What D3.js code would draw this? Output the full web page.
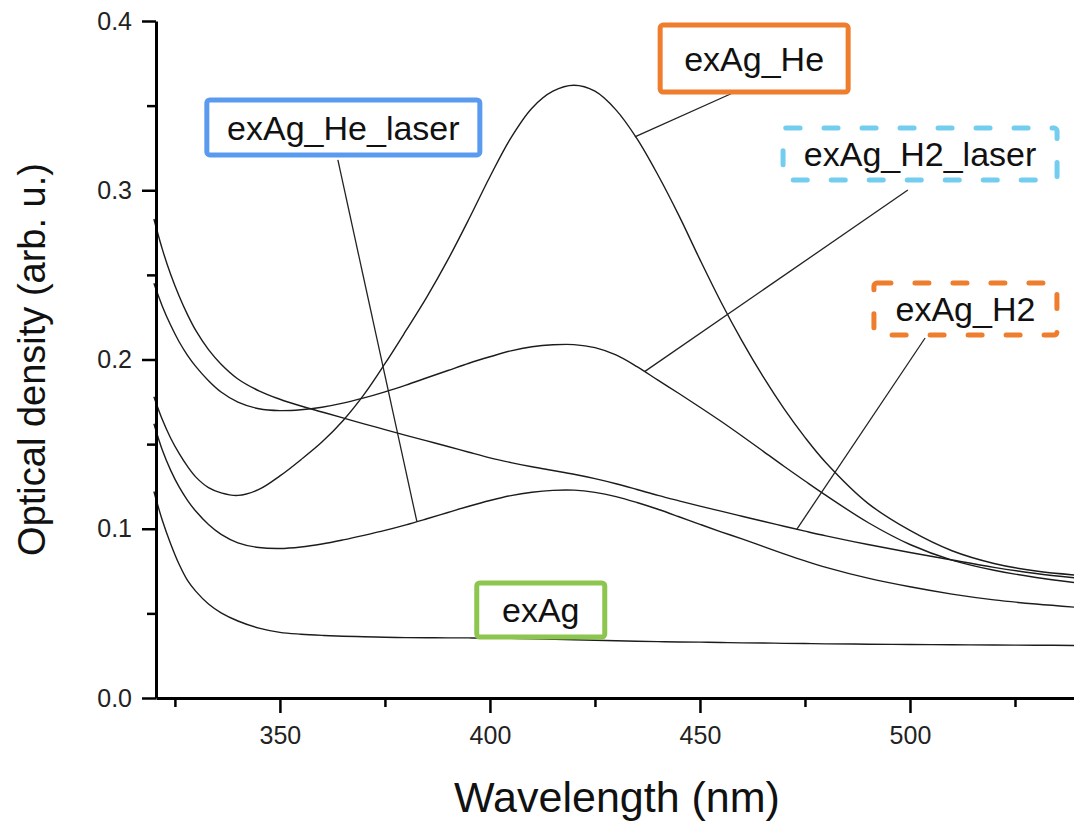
<!DOCTYPE html>
<html>
<head>
<meta charset="utf-8">
<script src="https://cdn.jsdelivr.net/npm/d3@7"></script>
<style>
  html, body { margin: 0; padding: 0; background: #fff; }
  svg { display: block; font-family: "Liberation Sans", Arial, sans-serif; }
</style>
</head>
<body>
<div id="chart"></div>
<script>
// Espectros de densidad óptica
const wavelength = [320, 322, 324, 326, 328, 330, 333, 336, 340, 345, 350, 355, 360, 365, 370, 375,
  380, 385, 390, 395, 400, 405, 410, 415, 420, 425, 430, 435, 440, 445, 450, 455, 460, 465, 470,
  475, 480, 490, 500, 510, 520, 530, 540];

const exAg = [0.122, 0.105, 0.091, 0.079, 0.0695, 0.063, 0.0555, 0.0503, 0.0455, 0.0413, 0.0388,
  0.0377, 0.037, 0.0365, 0.0362, 0.0359, 0.0357, 0.0356, 0.0355, 0.0355, 0.0354, 0.0352, 0.035,
  0.0347, 0.0344, 0.0341, 0.0338, 0.0335, 0.0333, 0.0331, 0.033, 0.0328, 0.0326, 0.0325, 0.0323,
  0.0322, 0.032, 0.0318, 0.0316, 0.0315, 0.0313, 0.0312, 0.031];

const exAgHe = [0.178, 0.1645, 0.1535, 0.1445, 0.1368, 0.1305, 0.1243, 0.1212, 0.1197, 0.1232,
  0.1312, 0.1408, 0.1512, 0.1638, 0.1792, 0.1975, 0.217, 0.237, 0.259, 0.283, 0.308, 0.331,
  0.3485, 0.3585, 0.362, 0.3585, 0.3475, 0.3305, 0.309, 0.285, 0.259, 0.234, 0.211, 0.190, 0.171,
  0.154, 0.139, 0.115, 0.099, 0.087, 0.0795, 0.075, 0.0725];

const exAgHeLaser = [0.162, 0.1465, 0.1345, 0.1247, 0.1168, 0.1103, 0.1025, 0.0967, 0.0917,
  0.0889, 0.0883, 0.0892, 0.091, 0.0934, 0.0961, 0.099, 0.1023, 0.1059, 0.1096, 0.1133, 0.1167,
  0.1196, 0.1216, 0.1227, 0.1228, 0.1215, 0.119, 0.1155, 0.1115, 0.1071, 0.1026, 0.0982, 0.094,
  0.0896, 0.0852, 0.081, 0.0772, 0.0708, 0.0657, 0.0614, 0.058, 0.0555, 0.0535];

const exAgH2 = [0.283, 0.2652, 0.2502, 0.2375, 0.2265, 0.217, 0.2058, 0.1972, 0.1885, 0.1815,
  0.1765, 0.1725, 0.169, 0.1655, 0.162, 0.1586, 0.1552, 0.1519, 0.1486, 0.1452, 0.1419, 0.1391,
  0.1366, 0.1344, 0.1322, 0.1296, 0.1266, 0.1232, 0.1197, 0.1165, 0.1134, 0.1104, 0.1074, 0.1044,
  0.1015, 0.0986, 0.0958, 0.0907, 0.086, 0.0815, 0.0772, 0.0736, 0.0708];

const exAgH2Laser = [0.245, 0.2315, 0.2202, 0.2105, 0.2025, 0.1958, 0.1875, 0.1808, 0.1748,
  0.1709, 0.1698, 0.1703, 0.1718, 0.1742, 0.1773, 0.1809, 0.1849, 0.1892, 0.1935, 0.1978, 0.2016,
  0.2051, 0.2075, 0.2087, 0.2088, 0.207, 0.2027, 0.1958, 0.1878, 0.1799, 0.1718, 0.1635, 0.1548,
  0.1459, 0.1369, 0.1282, 0.1197, 0.1037, 0.0907, 0.0815, 0.0755, 0.0712, 0.068];

const seriesNames = ["exAg", "exAg_He", "exAg_He_laser", "exAg_H2", "exAg_H2_laser"];
const seriesValues = [exAg, exAgHe, exAgHeLaser, exAgH2, exAgH2Laser];

const xTicks = [350, 400, 450, 500];
const xMinorTicks = [325, 375, 425, 475, 525];
const yTicks = [0.0, 0.1, 0.2, 0.3, 0.4];
const yMinorTicks = [0.05, 0.15, 0.25, 0.35];

// Etiquetas: centro de la caja y extremos de la línea guía (coordenadas de datos)
const labelText = ["exAg_He", "exAg_He_laser", "exAg_H2_laser", "exAg_H2", "exAg"];
const labelCenter = [[462.9, 0.3778], [365.1, 0.3371], [502.4, 0.3214], [513.2, 0.2298], [412.1, 0.052]];
const leaderFrom = [[457.4, 0.3570], [363.8, 0.3179], [499.5, 0.3001], [503.6, 0.2127], null];
const leaderTo = [[434.5, 0.3315], [382.6, 0.1043], [436.9, 0.1930], [473.0, 0.0995], null];

// --- estilo ---
const W = 1074, H = 822;
const boxStyle = [
  { w: 188, h: 67, color: "#ee7d2d", dash: null },
  { w: 273, h: 55, color: "#5a9bef", dash: null },
  { w: 274, h: 52, color: "#72cdee", dash: "14,24" },
  { w: 183, h: 52, color: "#ee7d2d", dash: "14,24" },
  { w: 128, h: 54, color: "#8cc64e", dash: null }
];

const x = d3.scaleLinear().domain([320.5, 540]).range([156, 1078]);
const y = d3.scaleLinear().domain([0, 0.4]).range([698, 21]);

const svg = d3.select("#chart").append("svg")
  .attr("width", W).attr("height", H);

svg.append("rect").attr("width", W).attr("height", H).attr("fill", "#fff");

// Curvas
svg.append("clipPath").attr("id", "plot-clip")
  .append("rect").attr("x", 150).attr("y", 0).attr("width", W).attr("height", 698);

const line = d3.line()
  .x((d, i) => x(wavelength[i]))
  .y(d => y(d))
  .curve(d3.curveCatmullRom.alpha(0.5));

svg.append("g").attr("clip-path", "url(#plot-clip)")
  .selectAll("path")
  .data(seriesValues)
  .join("path")
  .attr("d", line)
  .attr("fill", "none")
  .attr("stroke", "#1c1c1c")
  .attr("stroke-width", 1.4)
  .attr("class", (d, i) => "curve " + seriesNames[i]);

// Ejes
const xAxis = svg.append("g")
  .attr("transform", `translate(0,${y(0)})`)
  .call(d3.axisBottom(x).tickValues(xTicks).tickSize(15).tickSizeOuter(0).tickPadding(13));
svg.append("g")
  .attr("transform", `translate(0,${y(0)})`)
  .call(d3.axisBottom(x).tickValues(xMinorTicks).tickSize(9).tickFormat(""))
  .call(g => g.select(".domain").remove());

const yAxis = svg.append("g")
  .attr("transform", `translate(${x(320.5)},0)`)
  .call(d3.axisLeft(y).tickValues(yTicks).tickFormat(d3.format(".1f")).tickSize(14).tickSizeOuter(0).tickPadding(10));
svg.append("g")
  .attr("transform", `translate(${x(320.5)},0)`)
  .call(d3.axisLeft(y).tickValues(yMinorTicks).tickSize(9).tickFormat(""))
  .call(g => g.select(".domain").remove());

svg.selectAll(".domain").attr("stroke", "#000").attr("stroke-width", 3);
svg.selectAll(".tick line").attr("stroke", "#000").attr("stroke-width", 2.5);
xAxis.selectAll(".tick text").attr("font-size", 25).attr("fill", "#222");
yAxis.selectAll(".tick text").attr("font-size", 25).attr("fill", "#222");

// Títulos de eje
svg.append("text")
  .attr("x", 617).attr("y", 812)
  .attr("text-anchor", "middle")
  .attr("font-size", 43)
  .attr("fill", "#111")
  .text("Wavelength (nm)");

svg.append("text")
  .attr("transform", `translate(45,${y(0.2)}) rotate(-90)`)
  .attr("text-anchor", "middle")
  .attr("font-size", 38)
  .attr("fill", "#111")
  .text("Optical density (arb. u.)");

// Líneas guía
labelText.forEach((t, i) => {
  if (!leaderFrom[i]) return;
  svg.append("line")
    .attr("x1", x(leaderFrom[i][0])).attr("y1", y(leaderFrom[i][1]))
    .attr("x2", x(leaderTo[i][0])).attr("y2", y(leaderTo[i][1]))
    .attr("stroke", "#222").attr("stroke-width", 1.3);
});

// Cajas de etiqueta
const labels = svg.append("g").selectAll("g")
  .data(labelText)
  .join("g")
  .attr("transform", (d, i) => `translate(${x(labelCenter[i][0])},${y(labelCenter[i][1])})`);

labels.append("rect")
  .attr("x", (d, i) => -boxStyle[i].w / 2)
  .attr("y", (d, i) => -boxStyle[i].h / 2)
  .attr("width", (d, i) => boxStyle[i].w)
  .attr("height", (d, i) => boxStyle[i].h)
  .attr("rx", 3)
  .attr("fill", "#fff")
  .attr("stroke", (d, i) => boxStyle[i].color)
  .attr("stroke-width", 5)
  .attr("stroke-linecap", "round")
  .attr("stroke-dasharray", (d, i) => boxStyle[i].dash);

labels.append("text")
  .attr("text-anchor", "middle")
  .attr("dy", "0.36em")
  .attr("font-size", 34)
  .attr("fill", "#111")
  .text(d => d);
</script>
</body>
</html>
